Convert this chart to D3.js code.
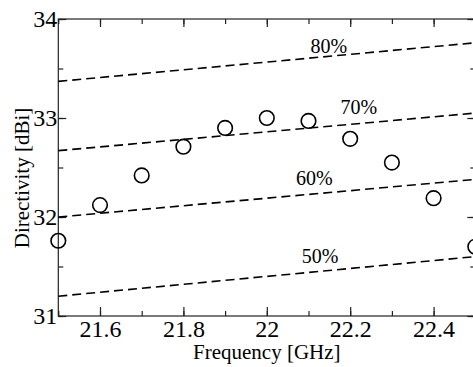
<!DOCTYPE html>
<html>
<head>
<meta charset="utf-8">
<script src="https://cdn.jsdelivr.net/npm/d3@7"></script>
<style>
  html, body { margin: 0; padding: 0; background: #fff; overflow: hidden; }
  svg { display: block; }
  text { font-family: "Liberation Serif", "Times New Roman", serif; fill: #000; }
</style>
</head>
<body>
<script>
// ---- data ----
const frequencies = [21.5, 21.6, 21.7, 21.8, 21.9, 22.0, 22.1, 22.2, 22.3, 22.4, 22.5];
const directivity = [31.76, 32.12, 32.42, 32.71, 32.90, 33.00, 32.97, 32.79, 32.55, 32.19, 31.70];

const efficiencyLabels = ["80%", "70%", "60%", "50%"];
const efficiencyStart = [33.37, 32.67, 32.00, 31.20];   // at 21.5 GHz
const efficiencyEnd   = [33.76, 33.05, 32.38, 31.60];   // at 22.5 GHz
const labelFreq = [22.149, 22.221, 22.114, 22.128];
const labelValue = [33.657, 33.04, 32.323, 31.535];

const xTickValues = [21.6, 21.8, 22.0, 22.2, 22.4];
const xMinorTicks = [21.5, 21.6, 21.7, 21.8, 21.9, 22.0, 22.1, 22.2, 22.3, 22.4, 22.5];
const yTickValues = [31, 32, 33, 34];
const yMinorTicks = [31, 31.5, 32, 32.5, 33, 33.5, 34];
const xDomain = [21.5, 22.5];
const yDomain = [31, 34];

// ---- layout ----
const W = 473, H = 367;
const mLeft = 58.3, mRight = 475.3, mTop = 19, mBottom = 316;

const svg = d3.select("body").append("svg").attr("width", W).attr("height", H);

const x = d3.scaleLinear().domain(xDomain).range([mLeft, mRight]);
const y = d3.scaleLinear().domain(yDomain).range([mBottom, mTop]);

const fmt = d => String(+d.toFixed(1));
const axisColor = "#222";

function styleAxis(g) {
  g.select(".domain").remove();
  g.selectAll("line").attr("stroke", axisColor).attr("stroke-width", 1.2);
}

// minor ticks (inward)
svg.append("g").attr("transform", `translate(0,${mBottom})`)
  .call(d3.axisBottom(x).tickValues(xMinorTicks).tickSize(-5).tickFormat(""))
  .call(styleAxis);
svg.append("g").attr("transform", `translate(0,${mTop})`)
  .call(d3.axisTop(x).tickValues(xMinorTicks).tickSize(-5).tickFormat(""))
  .call(styleAxis);
svg.append("g").attr("transform", `translate(${mLeft},0)`)
  .call(d3.axisLeft(y).tickValues(yMinorTicks).tickSize(-5).tickFormat(""))
  .call(styleAxis);
svg.append("g").attr("transform", `translate(${mRight},0)`)
  .call(d3.axisRight(y).tickValues(yMinorTicks).tickSize(-5).tickFormat(""))
  .call(styleAxis);

// major ticks
const xb = svg.append("g").attr("transform", `translate(0,${mBottom})`)
  .call(d3.axisBottom(x).tickValues(xTickValues).tickSize(-9).tickPadding(0).tickFormat(fmt))
  .call(styleAxis);
xb.selectAll("text").attr("font-size", 24).attr("y", 21).attr("dy", 0)
  .attr("font-family", "Liberation Serif").attr("fill", "#000");

svg.append("g").attr("transform", `translate(0,${mTop})`)
  .call(d3.axisTop(x).tickValues(xTickValues).tickSize(-8).tickFormat(""))
  .call(styleAxis);

const yl = svg.append("g").attr("transform", `translate(${mLeft},0)`)
  .call(d3.axisLeft(y).tickValues(yTickValues).tickSize(-8).tickFormat(d3.format("d")))
  .call(styleAxis);
yl.selectAll("text").attr("font-size", 24).attr("x", -1).attr("dy", "0.33em")
  .attr("font-family", "Liberation Serif").attr("fill", "#000");

svg.append("g").attr("transform", `translate(${mRight},0)`)
  .call(d3.axisRight(y).tickValues(yTickValues).tickSize(-8).tickFormat(""))
  .call(styleAxis);

// frame
svg.append("rect").attr("x", mLeft).attr("y", mTop)
  .attr("width", mRight - mLeft).attr("height", mBottom - mTop)
  .attr("fill", "none").attr("stroke", axisColor).attr("stroke-width", 1.2);

// efficiency lines
const lines = efficiencyLabels.map((lab, i) => ({
  label: lab,
  pts: [[xDomain[0], efficiencyStart[i]], [xDomain[1], efficiencyEnd[i]]],
  lx: labelFreq[i], ly: labelValue[i]
}));
const line = d3.line().x(d => x(d[0])).y(d => y(d[1]));
svg.append("g").selectAll("path").data(lines).join("path")
  .attr("d", d => line(d.pts))
  .attr("fill", "none").attr("stroke", "#000").attr("stroke-width", 1.6)
  .attr("stroke-dasharray", "9,5");
svg.append("g").selectAll("text").data(lines).join("text")
  .attr("x", d => x(d.lx)).attr("y", d => y(d.ly))
  .attr("text-anchor", "middle").attr("font-size", 20)
  .text(d => d.label);

// data points
svg.append("g").selectAll("circle").data(frequencies.map((f, i) => [f, directivity[i]])).join("circle")
  .attr("cx", d => x(d[0])).attr("cy", d => y(d[1])).attr("r", 7.3)
  .attr("fill", "none").attr("stroke", "#000").attr("stroke-width", 1.6);

// axis titles
svg.append("text").attr("x", (mLeft + mRight) / 2).attr("y", 359)
  .attr("text-anchor", "middle").attr("font-size", 21).text("Frequency [GHz]");
svg.append("text").attr("transform", "translate(29,178) rotate(-90)")
  .attr("text-anchor", "middle").attr("font-size", 21).text("Directivity [dBi]");
</script>
</body>
</html>
